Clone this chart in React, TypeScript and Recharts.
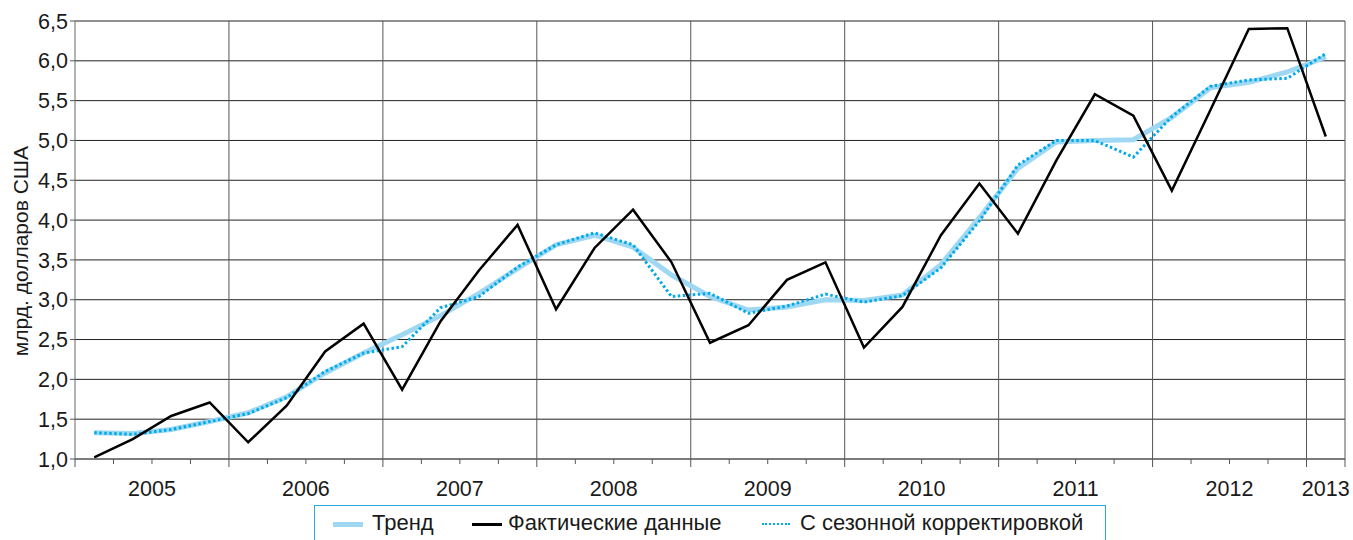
import { LineChart, Line, XAxis, YAxis, CartesianGrid, ReferenceLine } from 'recharts';

// quarterly data, 2005 Q1 .. 2013 Q1
const yearLabels = ['2005', '2006', '2007', '2008', '2009', '2010', '2011', '2012', '2013'];

const trend = [
	1.33, 1.32, 1.37, 1.47, 1.58, 1.78, 2.08, 2.33, 2.56, 2.8, 3.08, 3.39, 3.69, 3.81, 3.66, 3.31, 3.04,
	2.87, 2.91, 3.0, 2.99, 3.06, 3.44, 4.03, 4.65, 4.98, 5.0, 5.01, 5.29, 5.66, 5.73, 5.86, 6.05,
];

const actual = [
	1.02, 1.25, 1.54, 1.71, 1.21, 1.67, 2.35, 2.7, 1.87, 2.73, 3.37, 3.94, 2.88, 3.65, 4.13, 3.47, 2.46,
	2.68, 3.25, 3.47, 2.4, 2.91, 3.81, 4.46, 3.83, 4.75, 5.58, 5.31, 4.37, 5.38, 6.4, 6.41, 5.05,
];

const seasonal = [
	1.33, 1.31, 1.37, 1.47, 1.57, 1.77, 2.1, 2.33, 2.41, 2.9, 3.04, 3.41, 3.69, 3.84, 3.69, 3.04, 3.08,
	2.83, 2.92, 3.07, 2.97, 3.05, 3.4, 3.99, 4.69, 5.0, 5.0, 4.79, 5.3, 5.68, 5.76, 5.78, 6.09,
];

const yTicks = [1, 1.5, 2, 2.5, 3, 3.5, 4, 4.5, 5, 5.5, 6, 6.5];

// x is the middle of each quarter on a 0..33 scale
const data = actual.map((v, i) => ({
	x: i + 0.5,
	trend: trend[i],
	actual: v,
	seasonal: seasonal[i],
}));

const quarterBounds = Array.from({ length: 34 }, (_, i) => i);
const xTicks = [...quarterBounds, 32.5].sort((a, b) => a - b);
const yearBounds = [4, 8, 12, 16, 20, 24, 28, 32, 33];

const FONT = '"Liberation Sans", Arial, Helvetica, sans-serif';

const QuarterTick = ({ x, y, payload }: any) => {
	const v = payload.value;
	const isInt = Number.isInteger(v);
	const isYear = isInt && (v % 4 === 0 || v === 33);
	let label: string | null = null;
	if (isInt && v % 4 === 2) label = yearLabels[(v - 2) / 4];
	if (v === 32.5) label = yearLabels[8];
	return (
		<g>
			{isInt && <line x1={x} x2={x} y1={y} y2={y + (isYear ? 8 : 5)} stroke="#555" strokeWidth={1} />}
			{label && (
				<text x={x} y={y + 37} textAnchor="middle" fontSize={21.5} fill="#1a1a1a" fontFamily={FONT}>
					{label}
				</text>
			)}
		</g>
	);
};

export default function App() {
	return (
		<div
			style={{
				position: 'absolute',
				left: 0,
				top: 0,
				width: 1353,
				height: 540,
				background: '#fff',
				fontFamily: FONT,
				overflow: 'hidden',
			}}
		>
			<LineChart width={1353} height={540} data={data} margin={{ top: 21, right: 8, left: 0, bottom: 41 }}>
				<CartesianGrid vertical={false} stroke="#222" strokeWidth={1} />
				{yearBounds.map((b) => (
					<ReferenceLine key={b} x={b} stroke="#555" strokeWidth={1} />
				))}
				<XAxis
					dataKey="x"
					type="number"
					domain={[0, 33]}
					ticks={xTicks}
					interval={0}
					tick={<QuarterTick />}
					tickLine={false}
					tickSize={0}
					tickMargin={0}
					axisLine={{ stroke: '#666' }}
					height={40}
				/>
				<YAxis
					domain={[1, 6.5]}
					ticks={yTicks}
					interval={0}
					width={75}
					tickSize={5}
					tickMargin={2}
					tickLine={{ stroke: '#555' }}
					axisLine={{ stroke: '#666' }}
					tickFormatter={(v: number) => v.toFixed(1).replace('.', ',')}
					tick={{ fontSize: 21.5, fill: '#1a1a1a', fontFamily: FONT }}
					label={{
						value: 'млрд. долларов США',
						angle: -90,
						position: 'center',
						dx: -17,
						dy: 11,
						style: { fontSize: 21, fill: '#1a1a1a', fontFamily: FONT },
					}}
				/>
				<Line dataKey="trend" type="linear" stroke="#9fd8f2" strokeWidth={5} dot={false} isAnimationActive={false} />
				<Line dataKey="seasonal" type="linear" stroke="#00a9ec" strokeWidth={3} strokeDasharray="2.5 2.5" dot={false} isAnimationActive={false} />
				<Line dataKey="actual" type="linear" stroke="#000" strokeWidth={2.5} dot={false} isAnimationActive={false} />
			</LineChart>
			<div
				style={{
					position: 'absolute',
					left: 314,
					top: 505,
					width: 792,
					height: 45,
					border: '1.5px solid #29abe2',
					boxSizing: 'border-box',
					fontSize: 22,
					color: '#1a1a1a',
				}}
			>
				<div style={{ position: 'absolute', left: 18, top: 16, width: 30, height: 5, background: '#9fd8f2' }} />
				<span style={{ position: 'absolute', left: 57, top: 4, whiteSpace: 'nowrap' }}>Тренд</span>
				<div style={{ position: 'absolute', left: 157, top: 17, width: 30, height: 2.5, background: '#000' }} />
				<span style={{ position: 'absolute', left: 193, top: 4, whiteSpace: 'nowrap' }}>Фактические данные</span>
				<div
					style={{
						position: 'absolute',
						left: 447,
						top: 17,
						width: 28,
						height: 0,
						borderTop: '2.5px dotted #00a9ec',
					}}
				/>
				<span style={{ position: 'absolute', left: 485, top: 4, whiteSpace: 'nowrap' }}>С сезонной корректировкой</span>
			</div>
		</div>
	);
}
